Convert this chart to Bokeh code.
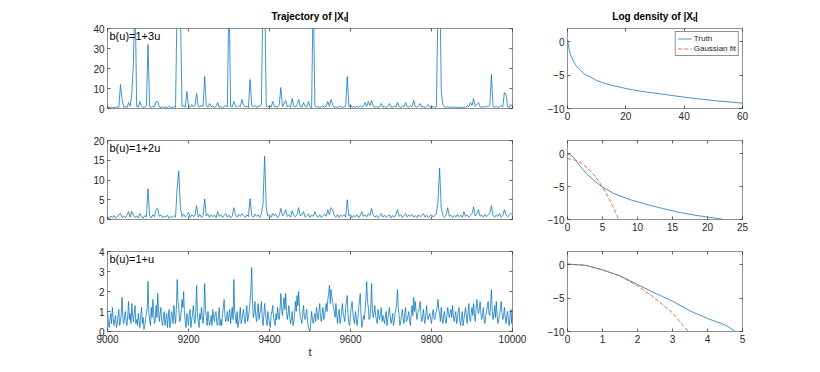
import numpy as np
from bokeh.plotting import figure
from bokeh.layouts import row, column
from bokeh.models import (Range1d, FixedTicker, Label, LinearAxis, Legend, LegendItem,
                          CustomLabelingPolicy)
from bokeh.embed import file_html
from bokeh.resources import INLINE

# ---------------- data ----------------
T_START = 9000
T_STEP = 4
T_STEP_FINE = 2

traj_1p3u = [
    0.5, 0.3, 0.8, 0.4, 0.6, 0.3, 0.9, 0.5, 12, 4.5,
    0.6, 1.0, 0.4, 3.0, 1.2, 7.0, 23, 60, 1.0, 0.6,
    3.5, 1.2, 0.5, 0.8, 1.5, 32, 1.0, 0.6, 1.2, 0.8,
    3.5, 3.5, 0.9, 0.4, 1.0, 0.5, 0.8, 0.3, 1.2, 0.6,
    0.4, 0.9, 0.6, 55, 80, 50, 1.0, 1.5, 0.7, 8.5,
    1.2, 0.6, 2.0, 0.8, 1.5, 7.5, 1.0, 0.6, 1.8, 0.9,
    16, 1.2, 0.7, 2.5, 0.9, 1.3, 0.5, 1.0, 3.0, 0.6,
    1.1, 0.5, 0.9, 1.6, 0.7, 60, 1.0, 0.8, 3.5, 1.2,
    0.6, 1.5, 0.9, 4.5, 1.8, 0.7, 1.2, 0.5, 14.5, 1.5,
    0.8, 1.6, 0.5, 1.2, 0.9, 2.0, 60, 60, 1.0, 0.8,
    1.4, 0.7, 3.5, 0.9, 1.2, 0.6, 1.8, 10.5, 1.0, 2.5,
    4.0, 0.8, 1.5, 0.6, 5.0, 1.2, 0.7, 2.0, 4.5, 1.0,
    0.6, 3.0, 1.0, 0.8, 3.5, 0.9, 0.5, 60, 1.2, 0.7,
    1.0, 0.5, 0.9, 1.3, 0.6, 1.2, 3.5, 1.0, 4.5, 1.8,
    0.6, 1.0, 0.4, 0.9, 1.2, 0.5, 0.8, 1.1, 16, 0.9,
    2.0, 0.6, 1.0, 0.4, 1.2, 0.7, 1.5, 0.8, 1.0, 3.0,
    1.0, 3.5, 1.5, 4.0, 1.2, 0.6, 1.0, 0.5, 0.9, 2.5,
    0.7, 1.1, 0.5, 1.0, 2.5, 0.8, 0.6, 1.3, 0.7, 3.0,
    1.0, 0.5, 1.2, 0.8, 3.0, 0.9, 0.6, 1.5, 0.8, 4.0,
    1.0, 0.6, 1.2, 2.5, 0.7, 1.0, 0.5, 0.9, 2.0, 0.8,
    0.6, 1.1, 0.5, 0.9, 50, 80, 9.0, 2.0, 0.8, 0.5,
    1.0, 0.4, 0.8, 0.5, 0.9, 0.3, 0.7, 0.4, 0.6, 0.3,
    0.8, 0.5, 1.5, 0.9, 3.0, 1.5, 5.0, 1.0, 1.8, 3.0,
    0.8, 0.5, 1.0, 0.6, 1.2, 0.8, 1.5, 17, 1.0, 0.6,
    1.2, 0.5, 0.9, 1.5, 0.7, 8.0, 7.0, 1.0, 0.5, 2.0,
    1.0,
]

traj_1p2u = [
    0.6, 0.2, 0.9, 0.4, 1.0, 0.3, 0.7, 1.2, 1.5, 0.5,
    0.9, 0.4, 1.1, 2.0, 0.6, 2.0, 1.2, 0.5, 0.9, 0.4,
    1.5, 0.8, 0.3, 1.0, 0.6, 7.8, 0.9, 0.4, 1.2, 0.7,
    2.5, 2.8, 0.8, 1.2, 0.4, 0.9, 0.6, 1.1, 0.3, 0.8,
    0.5, 1.0, 0.6, 8.0, 12.3, 3.0, 0.7, 1.4, 0.6, 1.0,
    1.8, 0.5, 1.2, 0.8, 1.0, 3.5, 0.6, 1.3, 0.5, 1.0,
    5.2, 0.9, 1.4, 0.5, 1.2, 0.7, 1.1, 0.4, 2.0, 0.8,
    1.2, 0.5, 1.0, 1.5, 0.6, 1.1, 0.4, 0.9, 3.0, 1.2,
    0.6, 1.3, 0.8, 1.5, 1.0, 0.5, 1.2, 0.7, 5.3, 1.0,
    0.6, 1.4, 0.8, 1.2, 0.5, 1.5, 4.0, 16, 3.0, 0.8,
    1.2, 0.6, 1.5, 0.9, 1.3, 0.5, 1.1, 2.8, 0.9, 1.4,
    2.5, 0.8, 1.2, 0.6, 2.2, 1.0, 0.7, 1.3, 3.0, 0.9,
    1.2, 2.0, 0.6, 1.0, 1.4, 0.5, 1.1, 0.8, 2.0, 0.9,
    0.6, 1.2, 0.5, 1.0, 1.4, 0.8, 2.5, 1.2, 3.0, 2.5,
    1.0, 0.6, 1.3, 0.5, 1.1, 0.8, 1.2, 0.6, 5.0, 0.9,
    1.3, 0.5, 1.0, 0.7, 1.2, 0.4, 1.0, 2.0, 0.8, 1.2,
    0.6, 1.5, 1.0, 2.8, 1.2, 0.6, 1.0, 0.4, 0.9, 1.5,
    0.6, 1.1, 0.5, 0.9, 1.2, 0.4, 1.0, 0.6, 1.3, 2.5,
    0.8, 1.2, 0.5, 1.0, 1.5, 0.6, 1.1, 0.8, 1.3, 0.6,
    1.0, 0.5, 1.2, 0.7, 1.0, 1.5, 0.6, 1.1, 0.5, 0.9,
    1.2, 0.6, 1.0, 1.5, 4.5, 13, 3.0, 1.0, 0.6, 1.2,
    3.0, 0.8, 1.1, 0.5, 1.0, 0.6, 1.3, 0.7, 1.1, 0.5,
    2.0, 0.8, 1.2, 0.6, 1.0, 1.5, 3.2, 0.9, 1.4, 2.5,
    0.8, 1.1, 0.6, 1.3, 0.7, 1.2, 1.5, 3.5, 0.9, 0.6,
    1.2, 0.8, 1.5, 0.6, 1.0, 2.5, 1.2, 0.7, 1.1, 1.5,
    1.3,
]

# b(u)=1+u: samples every 4 time units ...
traj_1pu = [
    1.0, 0.2, 0.9, 1.2, 0.3, 0.8, 0.4, 1.1, 0.5, 1.7,
    0.4, 1.0, 0.3, 1.5, 0.9, 1.4, 0.5, 1.3, 0.6, 0.9,
    0.2, 1.2, 0.7, 0.3, 0.9, 2.5, 0.6, 1.2, 1.6, 0.4,
    1.3, 1.9, 0.5, 1.2, 0.3, 1.0, 0.6, 0.2, 1.1, 0.5,
    0.8, 1.3, 0.4, 2.6, 1.2, 0.6, 1.6, 2.0, 0.5, 0.9,
    0.3, 1.1, 0.6, 1.3, 0.4, 2.3, 0.5, 0.9, 1.2, 0.4,
    2.4, 0.7, 1.0, 0.3, 0.8, 1.1, 0.5, 1.0, 0.3, 1.2,
    0.6, 0.9, 1.6, 0.5, 1.0, 0.8, 0.4, 1.2, 2.6, 0.7,
    1.0, 0.5, 1.2, 0.6, 1.1, 0.4, 1.3, 0.7, 1.5, 3.2,
    0.7, 1.5, 0.5, 1.4, 0.9, 1.5, 0.3, 1.4, 0.6, 1.0,
    0.4, 0.8, 1.3, 0.5, 0.9, 1.2, 0.6, 1.9, 0.8, 1.7,
    1.9, 0.6, 1.3, 0.4, 1.0, 0.5, 1.5, 1.8, 2.0, 0.7,
    0.4, 1.3, 0.6, 1.1, 0.2, 0.0, 1.0, 0.4, 0.9, 1.2,
    0.6, 1.4, 0.5, 1.2, 0.8, 1.4, 1.6, 2.3, 2.1, 1.5,
    1.0, 1.4, 0.4, 1.1, 0.6, 1.4, 0.7, 1.2, 1.8, 0.4,
    0.9, 1.5, 0.6, 1.0, 0.3, 1.2, 1.9, 0.2, 0.8, 1.1,
    2.5, 1.2, 0.7, 2.4, 0.7, 1.3, 0.6, 1.1, 0.6, 1.2,
    0.8, 0.4, 1.0, 0.6, 1.2, 0.4, 0.9, 0.5, 1.1, 2.1,
    0.8, 0.5, 1.1, 0.4, 1.2, 0.6, 1.0, 0.3, 1.3, 1.7,
    1.5, 0.6, 1.0, 1.5, 0.5, 1.1, 0.4, 1.3, 0.6, 0.9,
    0.4, 1.1, 0.6, 1.0, 1.6, 0.9, 1.2, 0.4, 1.0, 0.4,
    1.2, 0.7, 1.1, 1.3, 0.5, 1.0, 0.6, 1.2, 0.3, 1.0,
    0.6, 1.2, 0.4, 1.4, 0.5, 1.2, 1.4, 0.5, 1.6, 0.9,
    1.5, 0.6, 1.2, 0.4, 1.0, 1.5, 0.8, 2.1, 0.6, 1.3,
    1.5, 0.4, 0.9, 1.5, 0.6, 1.2, 0.4, 1.0, 0.3, 1.1,
    1.1,
]
# ... and the readings in between them (2 time units after each sample above)
traj_1pu_between = [
    0.5, 0.6, 0.4, 0.7, 0.6, 0.2, 0.8, 0.3, 0.9, 0.7,
    0.7, 0.5, 0.8, 0.6, 0.4, 0.8, 0.9, 0.4, 0.3, 0.5,
    0.8, 0.4, 0.1, 0.6, 1.2, 1.0, 0.3, 0.7, 0.9, 0.6,
    0.7, 1.1, 0.9, 0.5, 0.7, 0.3, 0.9, 0.7, 0.2, 1.0,
    0.4, 0.8, 1.1, 1.5, 0.5, 1.0, 1.2, 0.9, 0.2, 0.6,
    0.9, 0.2, 0.9, 0.6, 1.0, 0.9, 0.2, 0.6, 0.7, 1.0,
    1.1, 0.3, 0.6, 0.5, 0.3, 0.7, 0.9, 0.4, 0.8, 0.3,
    0.3, 1.2, 0.8, 0.7, 0.5, 1.1, 0.8, 0.6, 1.0, 0.4,
    0.2, 0.8, 0.4, 0.9, 0.6, 0.8, 0.5, 1.1, 2.0, 1.4,
    0.9, 0.8, 1.0, 0.6, 1.1, 0.7, 0.8, 0.9, 0.3, 0.7,
    0.2, 1.0, 0.7, 0.3, 0.6, 0.8, 1.1, 1.2, 1.3, 1.1,
    1.0, 0.9, 0.7, 0.6, 0.3, 0.9, 1.0, 1.3, 1.2, 0.6,
    0.9, 0.7, 0.9, 0.5, 0.1, 0.5, 0.6, 0.7, 0.5, 0.9,
    1.0, 0.7, 0.9, 0.6, 1.1, 1.0, 1.9, 1.4, 1.7, 1.2,
    0.7, 0.8, 0.9, 0.4, 1.0, 0.9, 0.5, 1.5, 0.8, 0.3,
    1.2, 0.9, 0.4, 0.7, 0.6, 1.5, 0.8, 0.5, 0.6, 1.6,
    1.5, 0.6, 1.2, 1.1, 0.9, 0.8, 0.4, 0.8, 0.9, 0.5,
    0.6, 0.7, 0.3, 0.9, 0.8, 0.6, 0.3, 0.9, 1.4, 1.2,
    0.3, 0.8, 0.7, 0.9, 0.5, 0.8, 0.5, 0.9, 0.8, 1.0,
    1.0, 0.9, 1.2, 0.8, 0.7, 0.6, 0.9, 0.7, 0.8, 0.6,
    0.8, 0.7, 0.9, 1.2, 1.1, 0.5, 0.7, 0.8, 0.6, 0.8,
    0.9, 0.9, 0.7, 0.8, 0.8, 0.4, 1.0, 0.5, 0.7, 0.3,
    0.9, 0.8, 0.9, 0.7, 0.9, 0.8, 0.9, 1.1, 1.2, 1.1,
    0.9, 0.8, 0.6, 0.8, 1.3, 0.9, 1.4, 1.0, 0.9, 0.7,
    0.8, 0.6, 1.1, 0.9, 0.8, 0.7, 0.8, 0.5, 0.8, 0.4,
]

# log densities (x, log p)
dens3_x = [0, 0.5, 1, 2, 3, 4, 5, 6, 8, 10, 12.5, 15, 20, 25, 30, 35, 40, 45, 50, 55, 60]
dens3_truth = [0.35, -1.0, -1.9, -2.9, -3.6, -4.1, -4.5, -4.9, -5.3, -5.8, -6.2, -6.5,
               -7.0, -7.4, -7.7, -8.0, -8.3, -8.55, -8.8, -9.0, -9.2]
dens3_gx = [0.0]
dens3_gauss = [float("nan")]   # fit not visible in this panel

dens2_x = [0, 0.6, 1.1, 1.8, 2.8, 3.7, 4.9, 6.6, 9, 11.4, 13.7, 16.1, 18.5, 20.9, 22.3]
dens2_truth = [0.0, -0.3, -0.9, -1.9, -3.15, -4.0, -5.0, -6.05, -7.0, -7.75, -8.35,
               -8.95, -9.4, -9.75, -10.0]
dens2_gx = [0, 1, 2, 3, 4, 5, 6, 7, 7.4]
dens2_gauss = [-0.75, -0.95, -1.45, -2.3, -3.5, -5.05, -6.95, -9.2, -10.3]

dens1_x = [0, 0.5, 1, 1.5, 2, 2.5, 3, 3.5, 4, 4.5, 4.8]
dens1_truth = [0.1, -0.05, -0.75, -1.65, -2.95, -4.25, -5.45, -6.9, -8.05, -9.0, -10.0]
dens1_gx = [0, 0.5, 1, 1.5, 2, 2.5, 3, 3.45]
dens1_gauss = [0.1, -0.08, -0.75, -1.7, -3.15, -5.0, -7.2, -10.0]

labels = ["b(u)=1+3u", "b(u)=1+2u", "b(u)=1+u"]
t_ticks = [9000, 9200, 9400, 9600, 9800, 10000]
traj_ymax = [40, 20, 4]
traj_yticks = [[0, 10, 20, 30, 40], [0, 5, 10, 15, 20], [0, 1, 2, 3, 4]]
dens_xmax = [60, 25, 5]
dens_xticks = [[0, 20, 40, 60], [0, 5, 10, 15, 20, 25], [0, 1, 2, 3, 4, 5]]
dens_yticks = [-10, -5, 0]
dens_ylim = (-10, 2)

# ---------------- style ----------------
FONT = "Liberation Sans"
BLUE = "#0072BD"
ORANGE = "#D95319"
FRAME = "#8f8f8f"
TXT = "#262626"

FRAME_LW, FRAME_RW = 405, 175
FRAME_H = [80, 79, 80]
TOPS = [28, 16, 16]
BOTTOMS = [16, 16, 33]
L_LEFT, L_RIGHT = 107, 25
R_LEFT, R_RIGHT = 30, 45

NO_LABELS = "for (const i of indices) { indices.unset(i) } return indices"


def style_axis(ax, ticks, show_labels=True):
    ax.ticker = FixedTicker(ticks=ticks)
    ax.axis_line_color = None
    ax.major_tick_in = 3
    ax.major_tick_out = 0
    ax.major_tick_line_color = TXT
    ax.major_tick_line_width = 0.7
    ax.minor_tick_line_color = None
    ax.major_label_text_font = FONT
    ax.major_label_text_color = TXT
    if show_labels:
        ax.major_label_text_font_size = "10px"
        ax.major_label_standoff = 3
    else:
        ax.major_label_text_font_size = "1px"
        ax.major_label_standoff = 0
        ax.major_label_policy = CustomLabelingPolicy(code=NO_LABELS)


def make_fig(fw, fh, left, right, top, bottom, xr, yr, xticks, yticks, show_x):
    p = figure(frame_width=fw, frame_height=fh, x_range=Range1d(*xr), y_range=Range1d(*yr),
               output_backend="svg", toolbar_location=None,
               x_axis_location=None, y_axis_location=None,
               min_border_left=left, min_border_right=right,
               min_border_top=top, min_border_bottom=bottom)
    p.grid.visible = False
    p.outline_line_color = FRAME
    p.outline_line_width = 1
    p.background_fill_color = "white"
    p.border_fill_color = "white"
    ax_b = LinearAxis()
    style_axis(ax_b, xticks, show_x)
    p.add_layout(ax_b, "below")
    ax_l = LinearAxis()
    style_axis(ax_l, yticks, True)
    p.add_layout(ax_l, "left")
    ax_r = LinearAxis()
    style_axis(ax_r, yticks, False)
    p.add_layout(ax_r, "right")
    ax_t = LinearAxis()
    style_axis(ax_t, xticks, False)
    p.add_layout(ax_t, "above")
    return p, ax_b


def set_title(p, text):
    p.title.text = text
    p.title.align = "center"
    p.title.text_font = FONT
    p.title.text_font_size = "10px"
    p.title.text_font_style = "bold"
    p.title.text_color = "#000000"
    p.title.standoff = 5


left_figs, right_figs = [], []
dens = [(dens3_x, dens3_truth, dens3_gx, dens3_gauss),
        (dens2_x, dens2_truth, dens2_gx, dens2_gauss),
        (dens1_x, dens1_truth, dens1_gx, dens1_gauss)]

fine = np.empty(2 * len(traj_1pu) - 1)
fine[0::2] = traj_1pu
fine[1::2] = traj_1pu_between
series = [(T_START + T_STEP * np.arange(len(traj_1p3u)), traj_1p3u),
          (T_START + T_STEP * np.arange(len(traj_1p2u)), traj_1p2u),
          (T_START + T_STEP_FINE * np.arange(len(fine)), fine)]

for k in range(3):
    # trajectory
    pl, axb = make_fig(FRAME_LW, FRAME_H[k], L_LEFT, L_RIGHT, TOPS[k], BOTTOMS[k],
                       (9000, 10000), (0, traj_ymax[k]), t_ticks, traj_yticks[k], k == 2)
    t, y = series[k]
    pl.line(t, y, line_color=BLUE, line_width=0.75)
    pl.add_layout(Label(x=9000, y=traj_ymax[k], x_offset=2, y_offset=-1, text=labels[k],
                        text_font=FONT, text_font_size="11px", text_color="#000000",
                        text_baseline="top", text_align="left"))
    if k == 0:
        set_title(pl, "Trajectory of |X\u209C|")
    if k == 2:
        axb.axis_label = "t"
        axb.axis_label_text_font = FONT
        axb.axis_label_text_font_size = "11px"
        axb.axis_label_text_font_style = "normal"
        axb.axis_label_text_color = TXT
        axb.axis_label_standoff = 0
    left_figs.append(pl)

    # density
    pr, _ = make_fig(FRAME_RW, FRAME_H[k], R_LEFT, R_RIGHT, TOPS[k], BOTTOMS[k],
                     (0, dens_xmax[k]), dens_ylim, dens_xticks[k], dens_yticks, True)
    dx, dt, gx, gy = dens[k]
    r1 = pr.line(dx, dt, line_color=BLUE, line_width=1, line_alpha=0.75)
    r2 = pr.line(gx, gy, line_color=ORANGE, line_width=1, line_alpha=0.8, line_dash="4 2")
    if k == 0:
        set_title(pr, "Log density of |X\u209C|")
        leg = Legend(items=[LegendItem(label="Truth", renderers=[r1]),
                            LegendItem(label="Gaussian fit", renderers=[r2])],
                     location="top_right", margin=3, padding=2, spacing=1,
                     glyph_width=14, glyph_height=9, label_height=9, label_standoff=2,
                     label_text_font=FONT, label_text_font_size="8px",
                     label_text_color=TXT, border_line_color=TXT, border_line_width=0.6,
                     background_fill_alpha=1)
        pr.add_layout(leg)
    right_figs.append(pr)

layout = row(column(*left_figs), column(*right_figs))
open("out.html", "w").write(file_html(layout, INLINE))
